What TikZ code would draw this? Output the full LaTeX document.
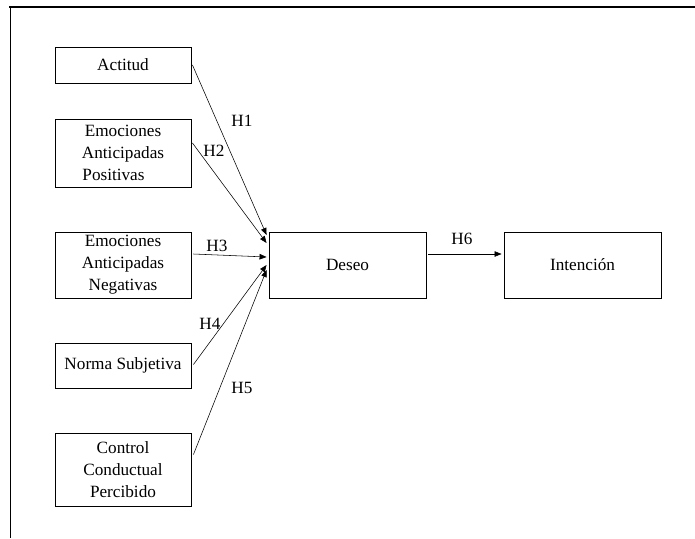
\documentclass[tikz,border=0pt]{standalone}
\usepackage{fontspec}
\setmainfont{Liberation Serif}
\usetikzlibrary{arrows.meta,calc}
\begin{document}
\begin{tikzpicture}[x=1pt,y=-1pt,
  box/.style={draw,line width=0.9pt,inner sep=0pt,align=center,
    font=\fontsize{17.2}{22}\selectfont},
  lbl/.style={inner sep=0pt,font=\fontsize{17.2}{22}\selectfont},
  conn/.style={line width=0.55pt,-{Triangle[length=7pt,width=5.5pt]}}]
\useasboundingbox (0,0) rectangle (695,538);
\coordinate (tl) at (9,7);
\coordinate (tr) at (695,7);
\coordinate (bl) at (10,538);
\draw[line width=1.8pt] (tl) -- (tr);
\draw[line width=1pt] (10,7) -- (bl);

\node[box,minimum width=136pt,minimum height=36pt] (act) at (123,65) {Actitud};
\node[box,minimum width=136pt,minimum height=68pt] (pos) at (123,153) {Emociones\\Anticipadas\\Positivas\kern19pt};
\node[box,minimum width=136pt,minimum height=66pt] (neg) at (123,265) {Emociones\\Anticipadas\\Negativas};
\node[box,minimum width=136pt,minimum height=45pt] (nor) at (123,365.5) {Norma Subjetiva};
\node[box,minimum width=136pt,minimum height=73pt] (con) at (123,469.5) {Control\\Conductual\\Percibido};
\node[box,minimum width=157pt,minimum height=66pt] (des) at (347.5,265) {Deseo};
\node[box,minimum width=157pt,minimum height=66pt] (int) at (582.5,265) {Intención};

\draw[conn] ($(act.east)+(1,0)$) -- ($(des.west)+(-2,-30)$);
\draw[conn] ($(pos.east)+(1,-10)$) -- ($(des.west)+(-2,-22)$);
\draw[conn] ($(neg.east)+(2,-11)$) -- ($(des.west)+(-2,-8)$);
\draw[conn] ($(nor.east)+(2,-1)$) -- ($(des.west)+(-2,0)$);
\draw[conn] ($(con.east)+(2,-15)$) -- ($(des.west)+(-2,5)$);
\draw[conn] ($(des.east)+(2,-11)$) -- ($(int.west)+(-2,-11)$);

\node[lbl] (h1) at (242,121) {H1};
\node[lbl] (h2) at (214,151) {H2};
\node[lbl] (h3) at (217,246) {H3};
\node[lbl] (h4) at (210,324) {H4};
\node[lbl] (h5) at (242,388) {H5};
\node[lbl] (h6) at (462,239) {H6};
\end{tikzpicture}
\end{document}
